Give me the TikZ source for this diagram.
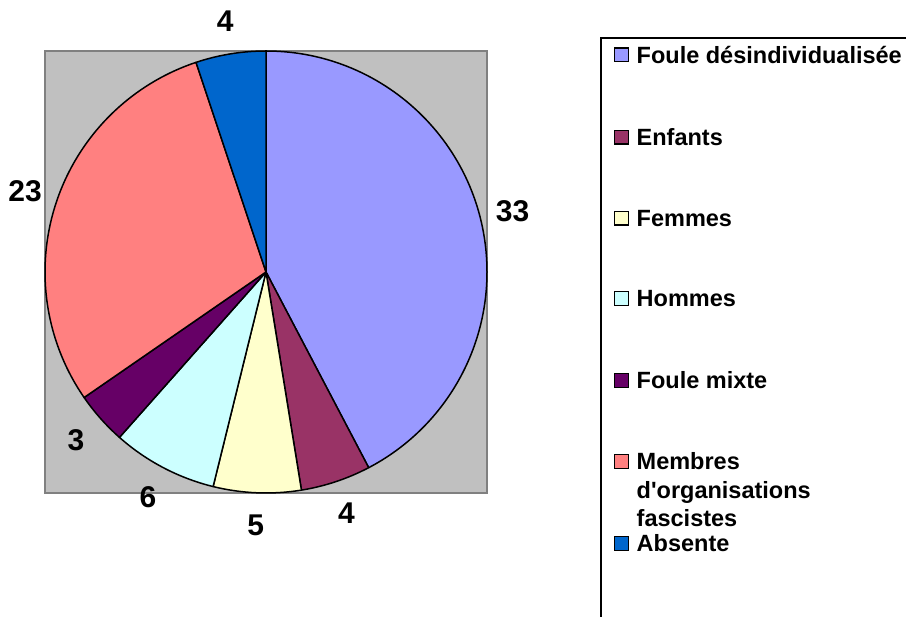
\documentclass[tikz,border=0pt]{standalone}
\usepackage{fontspec}
\setmainfont{Liberation Sans}
\usetikzlibrary{calc}

\definecolor{plotgray}{HTML}{C0C0C0}
\definecolor{framegray}{HTML}{808080}
\definecolor{fouledes}{HTML}{9999FF}
\definecolor{enfants}{HTML}{993366}
\definecolor{femmes}{HTML}{FFFFCC}
\definecolor{hommes}{HTML}{CCFFFF}
\definecolor{foulemix}{HTML}{660066}
\definecolor{membres}{HTML}{FF8080}
\definecolor{absente}{HTML}{0066CC}

\begin{document}
\begin{tikzpicture}[x=1pt, y=1pt,
    wedge/.style={draw=black, line width=1.5pt, line join=round},
    vallab/.style={inner sep=0pt, font=\fontsize{30}{32}\selectfont\bfseries},
    legtxt/.style={anchor=base west, inner sep=0pt, align=left, font=\fontsize{23.5}{28.5}\selectfont\bfseries},
    legkey/.style={draw=black, line width=1.3pt, minimum size=13.5pt, inner sep=0pt}]
    \useasboundingbox (0,0) rectangle (906,617);
    \clip (0,0) rectangle (906,617);

    % Draw plot area
    \draw[fill=plotgray, draw=framegray, line width=1.5pt] (45,124) rectangle (487,566);
    \coordinate (c) at (266,345);

    % Draw the slices and their values
    \foreach \v/\col [count=\i, remember=\e as \s (initially 90), evaluate=\v as \e using \s-\v*360/78] in
        {33/fouledes, 4/enfants, 5/femmes, 6/hommes, 3/foulemix, 23/membres, 4/absente}
    {
        \filldraw[wedge, fill=\col] (c) -- ++(\s:221) arc (\s:\e:221) -- cycle;
        \node[vallab] (val\i) at ($(c)+({(\s+\e)/2}:254)$) {\v};
    }

    % Draw legend frame
    \draw[line width=1.5pt] (601,-10) -- (601,579) -- (920,579);

    % Add legend entries (key height, text baseline)
    \foreach \txt/\col/\yk/\yb [count=\i] in
        {Foule désindividualisée/fouledes/553.7/553.7,
         Enfants/enfants/471.3/471.3,
         Femmes/femmes/390.3/390.3,
         Hommes/hommes/310/310,
         Foule mixte/foulemix/228/228,
         {Membres\\d\textquotesingle organisations\\fascistes}/membres/147/90,
         Absente/absente/65/65}
    {
        \node[legkey, fill=\col] (key\i) at (621.5,\yk+8.5) {};
        \node[legtxt] (leg\i) at (636.5,\yb) {\txt};
    }
\end{tikzpicture}
\end{document}
